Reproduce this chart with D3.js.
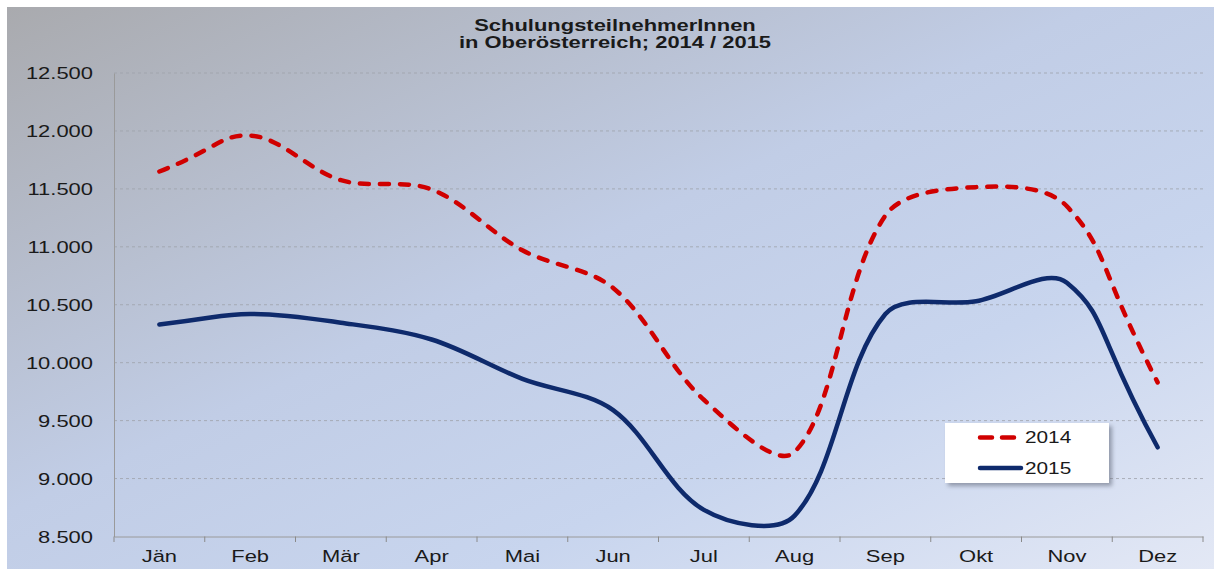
<!DOCTYPE html>
<html><head><meta charset="utf-8">
<script src="https://cdn.jsdelivr.net/npm/d3@7"></script>
<style>
html,body{margin:0;padding:0;background:#fff;}
svg{display:block;}
text{font-family:"Liberation Sans",Arial,sans-serif;fill:#1a1a1a;}
</style></head>
<body>
<svg id="c" width="1214" height="569"></svg>
<script>
const months = ["Jän","Feb","Mär","Apr","Mai","Jun","Jul","Aug","Sep","Okt","Nov","Dez"];
const values2014 = [11650,11960,11575,11495,10970,10645,9680,9230,11270,11515,11350,9830];
const values2015 = [10330,10420,10345,10200,9860,9590,8730,8680,10420,10530,10690,9270];
const yTicks = [8500,9000,9500,10000,10500,11000,11500,12000,12500];
const titleLines = ["SchulungsteilnehmerInnen","in Oberösterreich; 2014 / 2015"];
const seriesNames = ["2014","2015"];

const SX = 1.33;
const svg = d3.select("#c");
const defs = svg.append("defs");
const g1 = defs.append("linearGradient").attr("id","bg").attr("x1","0").attr("y1","0").attr("x2","1").attr("y2","1");
g1.append("stop").attr("offset","0").attr("stop-color","#a9aaae");
g1.append("stop").attr("offset","0.45").attr("stop-color","#c1cde6");
g1.append("stop").attr("offset","0.7").attr("stop-color","#c8d5ee");
g1.append("stop").attr("offset","1").attr("stop-color","#e3e8f5");
const f = defs.append("filter").attr("id","sh").attr("x","-20%").attr("y","-20%").attr("width","150%").attr("height","150%");
f.append("feGaussianBlur").attr("stdDeviation","2");

svg.append("rect").attr("x",7).attr("y",7).attr("width",1207).attr("height",562).attr("fill","url(#bg)");

const x = d3.scaleBand().domain(months).range([114,1203]).padding(0);
const y = d3.scaleLinear().domain([8500,12500]).range([536.5,73]);
const cx = m => x(m) + x.bandwidth()/2;

const loc = d3.formatLocale({decimal:",",thousands:".",grouping:[3],currency:["","€"]});
const fmt = loc.format(",.0f");

// gridlines
svg.append("g").selectAll("line").data(yTicks.filter(v=>v>8500)).join("line")
  .attr("x1",114).attr("x2",1203).attr("y1",d=>y(d)).attr("y2",d=>y(d))
  .attr("stroke","#9ea2aa").attr("stroke-width",1).attr("stroke-dasharray","3,3").attr("opacity",0.8);

// y axis
const ya = svg.append("g").attr("transform","translate(114,0)")
  .call(d3.axisLeft(y).tickValues(yTicks).tickSize(0).tickFormat(fmt));
ya.select(".domain").attr("stroke","#9a9a9a").attr("stroke-width",1);
ya.selectAll("text").attr("x",0).attr("dy",null).attr("dominant-baseline","central")
  .attr("transform","translate(-21,0) scale("+SX+",1)")
  .style("font-size","16.5px").attr("fill","#1a1a1a").style("font-family","'Liberation Sans',Arial,sans-serif");

// x axis
const xa = svg.append("g").attr("transform","translate(0,536.5)")
  .call(d3.axisBottom(x).tickSize(0).tickSizeOuter(0));
xa.select(".domain").attr("stroke","#9a9a9a").attr("stroke-width",1);
xa.selectAll("text").attr("y",0).attr("dy",null)
  .attr("transform","translate(0,25.5) scale("+SX+",1)")
  .style("font-size","16.5px").attr("fill","#1a1a1a").style("font-family","'Liberation Sans',Arial,sans-serif");
const bounds = months.map(m=>x(m)).concat([x.range()[1]]);
svg.append("g").selectAll("line").data(bounds).join("line")
  .attr("x1",d=>d).attr("x2",d=>d).attr("y1",536.5).attr("y2",542)
  .attr("stroke","#8a8a8a").attr("stroke-width",1);

// Excel-style smoothed line: Bezier with segment-length weighted tangents
function smoothPath(vals){
  const p = vals.map((v,i)=>[cx(months[i]), y(v)]);
  const dist = (a,b)=>Math.hypot(b[0]-a[0], b[1]-a[1]);
  const path = d3.path();
  path.moveTo(p[0][0], p[0][1]);
  for(let i=0;i<p.length-1;i++){
    const p0 = p[i-1] || p[i], p1 = p[i], p2 = p[i+1], p3 = p[i+2] || p[i+1];
    const d01 = dist(p0,p1), d12 = dist(p1,p2), d23 = dist(p2,p3);
    const fa = (d01+d12)>0 ? d12/(d01+d12)/3 * (p[i-1]?1:2) : 0;
    const fb = (d12+d23)>0 ? d12/(d12+d23)/3 * (p[i+2]?1:2) : 0;
    const c1 = [p1[0] + (p2[0]-p0[0])*fa, p1[1] + (p2[1]-p0[1])*fa];
    const c2 = [p2[0] - (p3[0]-p1[0])*fb, p2[1] - (p3[1]-p1[1])*fb];
    path.bezierCurveTo(c1[0],c1[1],c2[0],c2[1],p2[0],p2[1]);
  }
  return path.toString();
}

svg.append("path").attr("d",smoothPath(values2015)).attr("fill","none")
  .attr("stroke","#0e2a6c").attr("stroke-width",4.5).attr("stroke-linecap","round").attr("stroke-linejoin","round");
svg.append("path").attr("d",smoothPath(values2014)).attr("fill","none")
  .attr("stroke","#d00000").attr("stroke-width",4.5).attr("stroke-linecap","round")
  .attr("stroke-dasharray","9,11");

// title
svg.append("g").selectAll("text").data(titleLines).join("text")
  .attr("transform",(d,i)=>"translate(615,"+(31+i*17)+") scale("+SX+",1)")
  .attr("text-anchor","middle").style("font-size","16.5px").style("font-weight","bold").text(d=>d);

// legend
const lg = svg.append("g");
lg.append("rect").attr("x",948).attr("y",426).attr("width",164).attr("height",60).attr("fill","#5a6170").attr("opacity",0.55).attr("filter","url(#sh)");
lg.append("rect").attr("x",945).attr("y",423).attr("width",164).attr("height",60).attr("fill","#ffffff");
const items = lg.selectAll("g.it").data(seriesNames).join("g").attr("class","it")
  .attr("transform",(d,i)=>"translate(0,"+(437.5+i*30.5)+")");
items.append("line").attr("x1",980).attr("x2",1021).attr("y1",0).attr("y2",0)
  .attr("stroke",(d,i)=>i===0?"#d00000":"#0e2a6c").attr("stroke-width",4.5).attr("stroke-linecap","round")
  .attr("stroke-dasharray",(d,i)=>i===0?"12,10":null);
items.append("text").attr("transform","translate(1025,0) scale(1.3,1)").attr("dominant-baseline","central")
  .style("font-size","16px").text(d=>d);
</script>
</body></html>
